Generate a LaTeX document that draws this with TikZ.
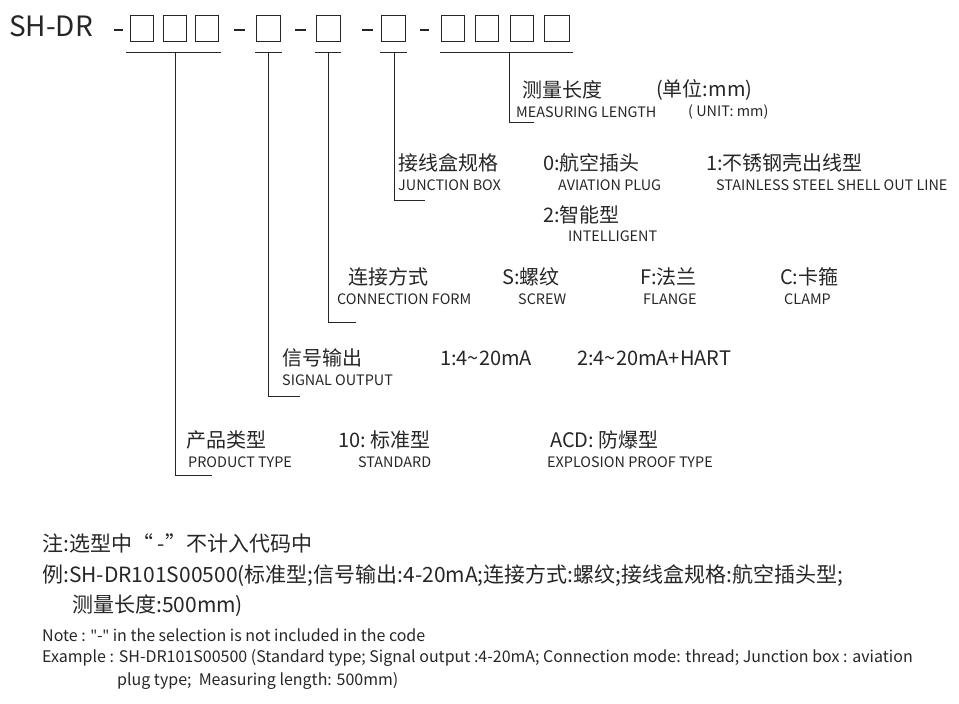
\documentclass[tikz,border=0pt]{standalone}
\usepackage{fontspec}
\setmainfont{Noto Sans CJK SC}
\newfontfamily\qfont{Noto Sans}
\begin{document}
\begin{tikzpicture}[x=1pt,y=-1pt,
  cn/.style={anchor=west,inner sep=0pt,font=\fontsize{20}{22}\selectfont,text=black!85},
  en/.style={anchor=west,inner sep=0pt,font=\fontsize{14.4}{16}\selectfont,text=black!85},
  nt/.style={anchor=west,inner sep=0pt,font=\fontsize{21}{24}\selectfont,text=black!85},
  ne/.style={anchor=west,inner sep=0pt,font=\fontsize{16}{18}\selectfont,text=black!85},
  bx/.style={draw=black!85,line width=0.9pt},
  ds/.style={draw=black!85,line width=2.4pt},
  ln/.style={draw=black!85,line width=1pt}]
\useasboundingbox (0,0) rectangle (959,704);
\node[anchor=west,inner sep=0pt,font=\fontsize{28}{30}\selectfont,text=black!85] (title) at (9,26) {SH-DR};
\foreach \a/\b in {114/123,234/245,295/306,362/373,420/429}{\draw[ds] (\a,30) -- (\b,30);}
\foreach \x/\w in {130/23,163/23,195/23,256/24,316/24,381/24,441/23,475/23,510/23,544/25}{\draw[bx] (\x,15) rectangle ++(\w,26);}
\draw[ln] (126,52) -- (221,52); \draw[ln] (255,52) -- (282,52);
\draw[ln] (315,52) -- (341,52); \draw[ln] (380,52) -- (407,52);
\draw[ln] (440,52) -- (573,52);
\coordinate (g1) at (175,52); \coordinate (e1) at (212,475);
\coordinate (g2) at (268,52); \coordinate (e2) at (300,396);
\coordinate (g3) at (328,52); \coordinate (e3) at (356,322);
\coordinate (g4) at (394,52); \coordinate (e4) at (425,200);
\coordinate (g5) at (509,52); \coordinate (e5) at (534,122);
\foreach \i in {1,...,5}{\draw[ln] (g\i) |- (e\i);}
% measuring
\node[cn] at (522,90) {测量长度};
\node[cn] at (656,90) {(单位:mm)};
\node[en] at (516,112) {MEASURING LENGTH};
\node[en] at (688,112) {( UNIT: mm)};
% junction box
\node[cn] at (398,163) {接线盒规格};
\node[en] at (398,185) {JUNCTION BOX};
\node[cn] at (543,163) {0:航空插头};
\node[en] at (558,185) {AVIATION PLUG};
\node[cn] at (706,163) {1:不锈钢壳出线型};
\node[en] at (716,185) {STAINLESS STEEL SHELL OUT LINE};
\node[cn] at (543,215) {2:智能型};
\node[en] at (568,236) {INTELLIGENT};
% connection
\node[cn] at (348,277) {连接方式};
\node[en] at (337,299) {CONNECTION FORM};
\node[cn] at (502,277) {S:螺纹};
\node[en] at (518,299) {SCREW};
\node[cn] at (640,277) {F:法兰};
\node[en] at (643,299) {FLANGE};
\node[cn] at (780,277) {C:卡箍};
\node[en] at (784,299) {CLAMP};
% signal
\node[cn] at (282,358) {信号输出};
\node[en] at (282,380) {SIGNAL OUTPUT};
\node[cn] at (440,358) {1:4\textasciitilde20mA};
\node[cn] at (577,358) {2:4\textasciitilde20mA+HART};
% product
\node[cn] at (186,440) {产品类型};
\node[en] at (188,462) {PRODUCT TYPE};
\node[cn] at (338,440) {10:\ 标准型};
\node[en] at (358,462) {STANDARD};
\node[cn] at (550,440) {ACD:\ 防爆型};
\node[en] at (547,462) {EXPLOSION PROOF TYPE};
% notes
\node[nt] at (42,543) {注:选型中“ -”不计入代码中};
\node[nt] at (42,576) {例:SH-DR101S00500(标准型;信号输出:4-20mA;连接方式:螺纹;接线盒规格:航空插头型;};
\node[nt] at (72,606) {测量长度:500mm)};
\node[ne] at (42,635) {Note : {\qfont\char34}-{\qfont\char34} in the selection is not included in the code};
\node[ne] at (42,658) {Example : SH-DR101S00500 (Standard type; Signal output :4-20mA; Connection mode: thread; Junction box : aviation};
\node[ne] at (117,681) {plug type;\ \ Measuring length: 500mm)};
\end{tikzpicture}
\end{document}
